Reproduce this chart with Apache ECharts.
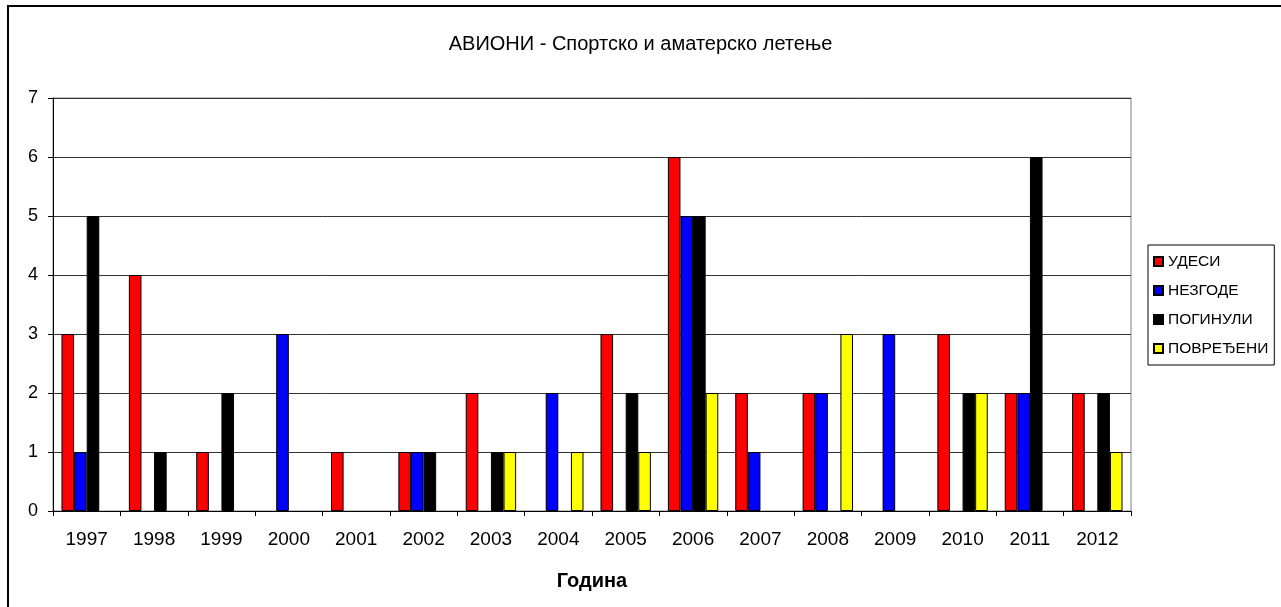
<!DOCTYPE html>
<html>
<head>
<meta charset="utf-8">
<script src="https://cdn.jsdelivr.net/npm/echarts@6/dist/echarts.min.js"></script>
<style>
html,body{margin:0;padding:0;background:#fff;}
#c{width:1281px;height:607px;}
</style>
</head>
<body>
<div id="c"></div>
<script>
const years = ['1997','1998','1999','2000','2001','2002','2003','2004','2005','2006','2007','2008','2009','2010','2011','2012'];
const udesi     = [3,4,1,0,1,1,2,0,3,6,2,2,0,3,2,2];
const nezgode   = [1,0,0,3,0,1,0,2,0,5,1,2,3,0,2,0];
const poginuli  = [5,1,2,0,0,1,1,0,2,5,0,0,0,2,6,2];
const povredjeni= [0,0,0,0,0,0,1,1,1,2,0,3,0,2,0,1];
const seriesNames = ['УДЕСИ','НЕЗГОДЕ','ПОГИНУЛИ','ПОВРЕЂЕНИ'];
const seriesColors = ['#ff0000','#0000ff','#000000','#ffff00'];
const yTicks = [0,1,2,3,4,5,6,7];

const FONT = 'Liberation Sans, Arial, sans-serif';
const chart = echarts.init(document.getElementById('c'), null, {renderer:'canvas'});
const dataSets = [udesi, nezgode, poginuli, povredjeni];

chart.setOption({
  animation: false,
  backgroundColor: '#fff',
  textStyle: {fontFamily: FONT},
  graphic: [{
    type: 'rect', silent: true, z: 100,
    shape: {x: 8, y: 6, width: 1300, height: 700},
    style: {fill: 'none', stroke: '#000', lineWidth: 2}
  }],
  title: {
    text: 'АВИОНИ - Спортско и аматерско летење',
    left: 'center', top: 29,
    textStyle: {fontFamily: FONT, fontSize: 20, fontWeight: 'normal', color: '#000'}
  },
  legend: {
    orient: 'vertical',
    left: 1148, top: 245,
    padding: [8, 6, 8, 5],
    borderColor: '#000', borderWidth: 1,
    itemWidth: 9, itemHeight: 9, itemGap: 12,
    icon: 'rect',
    textStyle: {fontFamily: FONT, fontSize: 15.5, color: '#000', lineHeight: 17},
    data: seriesNames
  },
  grid: {
    left: 53, right: 150, top: 98, bottom: 96,
    show: true, borderColor: '#808080', borderWidth: 1, backgroundColor: 'transparent'
  },
  xAxis: {
    type: 'category',
    data: years,
    name: 'Година',
    nameLocation: 'middle',
    nameGap: 60,
    nameTextStyle: {fontFamily: FONT, fontSize: 20, fontWeight: 'bold', color: '#000'},
    axisLine: {lineStyle: {color: '#000', width: 1}},
    axisTick: {show: true, length: 5, lineStyle: {color: '#000'}},
    axisLabel: {fontFamily: FONT, fontSize: 19, color: '#000', margin: 19}
  },
  yAxis: {
    type: 'value',
    min: yTicks[0], max: yTicks[yTicks.length-1], interval: 1,
    axisLine: {show: true, lineStyle: {color: '#000', width: 1}},
    axisTick: {show: true, length: 5, lineStyle: {color: '#000'}},
    axisLabel: {fontFamily: FONT, fontSize: 18, color: '#000', margin: 15},
    splitLine: {show: true, lineStyle: {color: '#333', width: 1}}
  },
  series: seriesNames.map((n, i) => ({
    name: n,
    type: 'bar',
    data: dataSets[i].map(v => (v === 0 ? null : v)),
    barWidth: 12.6,
    barGap: '0%',
    itemStyle: {color: seriesColors[i], borderColor: '#000', borderWidth: 1}
  }))
});
</script>
</body>
</html>
